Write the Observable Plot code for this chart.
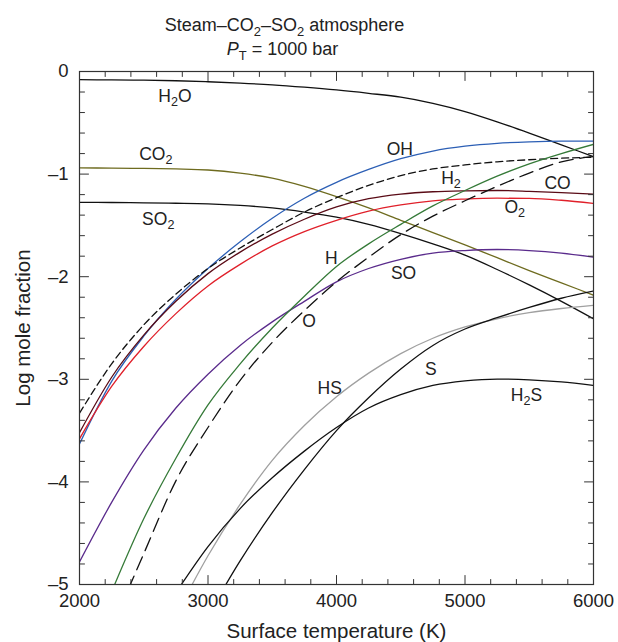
<!DOCTYPE html>
<html><head><meta charset="utf-8">
<script src="https://cdn.jsdelivr.net/npm/d3@7"></script>
<script src="https://cdn.jsdelivr.net/npm/@observablehq/plot@0.6"></script>
<style>
body{margin:0;background:#fff;}
#chart svg{font-family:"Liberation Sans",Arial,Helvetica,sans-serif;display:block;}
</style></head><body><div id="chart"></div>
<script>
// Temperature grid (K)
const T = [2000,2250,2500,2750,3000,3250,3500,3750,4000,4250,4500,4750,5000,5250,5500,5750,6000];

// Log mole fraction values (each series ends at the high-T end of the grid)
const H2O = [-0.08,-0.082,-0.085,-0.09,-0.10,-0.113,-0.13,-0.153,-0.18,-0.213,-0.25,-0.31,-0.39,-0.49,-0.60,-0.715,-0.83];
const CO2 = [-0.94,-0.941,-0.945,-0.95,-0.96,-0.99,-1.04,-1.12,-1.22,-1.33,-1.45,-1.57,-1.69,-1.815,-1.94,-2.06,-2.18];
const SO2 = [-1.275,-1.277,-1.28,-1.284,-1.29,-1.305,-1.33,-1.37,-1.42,-1.49,-1.58,-1.68,-1.79,-1.93,-2.08,-2.24,-2.41];
const OH  = [-3.63,-3.02,-2.58,-2.22,-1.92,-1.66,-1.43,-1.235,-1.08,-0.955,-0.85,-0.775,-0.728,-0.70,-0.686,-0.679,-0.678];
const H2  = [-3.33,-2.85,-2.47,-2.17,-1.92,-1.72,-1.54,-1.37,-1.23,-1.11,-1.015,-0.95,-0.91,-0.88,-0.86,-0.845,-0.835];
const CO  = [-3.52,-2.98,-2.57,-2.24,-1.97,-1.76,-1.585,-1.44,-1.32,-1.24,-1.195,-1.172,-1.163,-1.16,-1.168,-1.18,-1.195];
const O2  = [-3.58,-3.07,-2.68,-2.36,-2.09,-1.88,-1.70,-1.56,-1.45,-1.36,-1.30,-1.26,-1.243,-1.235,-1.237,-1.255,-1.285];
const SO  = [-4.78,-4.20,-3.69,-3.28,-2.95,-2.67,-2.44,-2.24,-2.05,-1.92,-1.83,-1.77,-1.745,-1.735,-1.745,-1.77,-1.81];
const H   = [-5.07,-4.36,-3.77,-3.25,-2.85,-2.50,-2.19,-1.90,-1.68,-1.49,-1.31,-1.16,-1.02,-0.90,-0.80,-0.71];
const O   = [-5.42,-4.70,-3.99,-3.47,-3.01,-2.64,-2.33,-2.05,-1.81,-1.59,-1.41,-1.26,-1.12,-0.99,-0.88,-0.83];
const HS  = [-5.30,-4.72,-4.22,-3.79,-3.45,-3.17,-2.94,-2.75,-2.60,-2.49,-2.41,-2.35,-2.31,-2.28];
const H2S = [-5.08,-4.63,-4.26,-3.96,-3.70,-3.47,-3.28,-3.15,-3.06,-3.015,-2.998,-3.005,-3.025,-3.06];
const S   = [-5.30,-4.77,-4.30,-3.88,-3.50,-3.18,-2.90,-2.67,-2.51,-2.40,-2.30,-2.21,-2.14];

// Curve labels (species name, anchor temperature, anchor log mole fraction)
const labelNames = ["H2O","CO2","SO2","OH","H2","CO","O2","H","SO","O","HS","S","H2S"];
const labelT = [2743,2594,2613,4493,4891,5720,5387,3960,4522,3787,3947,4734,5478];
const labelV = [-0.24,-0.81,-1.44,-0.756,-1.037,-1.094,-1.325,-1.823,-1.968,-2.431,-3.086,-2.899,-3.159];

// Axis ticks
const xMajor = [2000,3000,4000,5000,6000];
const xMinor = [2200,2400,2600,2800,3200,3400,3600,3800,4200,4400,4600,4800,5200,5400,5600,5800];
const yMajor = [0,-1,-2,-3,-4,-5];
const yMinor = [-0.2,-0.4,-0.6,-0.8,-1.2,-1.4,-1.6,-1.8,-2.2,-2.4,-2.6,-2.8,-3.2,-3.4,-3.6,-3.8,-4.2,-4.4,-4.6,-4.8];

const title1 = "Steam–CO2–SO2 atmosphere";
const title2 = "PT = 1000 bar";
const xLabel = "Surface temperature (K)";
const yLabel = "Log mole fraction";

const seriesList = [
  ["H2O", H2O, "#111", null],
  ["CO2", CO2, "#6e6b1f", null],
  ["SO2", SO2, "#111", null],
  ["OH", OH, "#2c5fb5", null],
  ["H2", H2, "#111", "7,4"],
  ["CO", CO, "#5a0b16", null],
  ["O2", O2, "#e0202a", null],
  ["SO", SO, "#5a2b8c", null],
  ["H", H, "#357a38", null],
  ["O", O, "#111", "14,7"],
  ["HS", HS, "#a0a0a0", null],
  ["H2S", H2S, "#111", null],
  ["S", S, "#111", null]
];

function rowsOf(name, vals) {
  const ts = T.slice(T.length - vals.length);
  return vals.map((v, i) => ({species: name, T: ts[i], v}));
}

const tickShape = {draw(ctx, l) { ctx.moveTo(0, 0); ctx.lineTo(0, -l); }};
const frameCol = "#333";
function ticks(data, ch, anchor, rot, len) {
  const o = {frameAnchor: anchor, rotate: rot, length: len, anchor: "start", shape: tickShape, stroke: frameCol, strokeWidth: 1};
  o[ch] = d => d;
  return Plot.vector(data, o);
}

const labels = labelNames.map((n, i) => ({n, T: labelT[i], v: labelV[i]}));
const centered = {textAnchor: "middle", lineAnchor: "middle", fill: "#222"};

const marks = [];
for (const [name, vals, col, dash] of seriesList) {
  marks.push(Plot.line(rowsOf(name, vals), {x: "T", y: "v", stroke: col, strokeWidth: 1.3, strokeDasharray: dash || undefined, curve: "monotone-x", clip: true}));
}
marks.push(
  Plot.frame({stroke: frameCol, strokeWidth: 1.2}),
  ticks(xMajor, "x", "bottom", 0, 9), ticks(xMinor, "x", "bottom", 0, 5),
  ticks(xMajor, "x", "top", 180, 9), ticks(xMinor, "x", "top", 180, 5),
  ticks(yMajor, "y", "left", 90, 9), ticks(yMinor, "y", "left", 90, 5),
  ticks(yMajor, "y", "right", -90, 9), ticks(yMinor, "y", "right", -90, 5),
  Plot.axisX({ticks: xMajor, tickSize: 0, tickPadding: 9, fontSize: 18.5, label: null, tickFormat: d => String(d), fill: "#222"}),
  Plot.axisY({ticks: yMajor, tickSize: 0, tickPadding: 11, fontSize: 18.5, label: null, tickFormat: d => d === 0 ? "0" : "–" + Math.abs(d), fill: "#222"}),
  Plot.text(labels, {x: "T", y: "v", text: "n", fontSize: 17.5, ...centered}),
  Plot.text([title1], {text: d => d, frameAnchor: "top", dx: -52, dy: -46, fontSize: 18, ...centered}),
  Plot.text([title2], {text: d => d, frameAnchor: "top", dx: -54, dy: -22, fontSize: 18, ...centered}),
  Plot.text([xLabel], {text: d => d, frameAnchor: "bottom", dy: 47, fontSize: 20.5, ...centered}),
  Plot.text([yLabel], {text: d => d, frameAnchor: "left", dx: -56, rotate: -90, fontSize: 20.5, ...centered})
);

const chart = Plot.plot({
  width: 618, height: 642,
  marginTop: 71, marginLeft: 79, marginRight: 25, marginBottom: 58,
  x: {domain: [2000, 6000]},
  y: {domain: [-5, 0]},
  style: {fontFamily: "'Liberation Sans', Arial, Helvetica, sans-serif", background: "#fff", color: "#222"},
  marks
});
document.getElementById("chart").append(chart);

// Typeset chemical subscripts and the P_T title
const NS = "http://www.w3.org/2000/svg";
function setSegments(el, segs) {
  const fs = parseFloat(el.getAttribute("font-size") || el.parentNode.getAttribute("font-size") || 17);
  while (el.firstChild) el.removeChild(el.firstChild);
  let shifted = false;
  for (const s of segs) {
    const ts = document.createElementNS(NS, "tspan");
    ts.textContent = s.t;
    if (s.sub) { ts.setAttribute("font-size", (fs * 0.72).toFixed(2)); if (!shifted) { ts.setAttribute("dy", (fs * 0.24).toFixed(2)); shifted = true; } }
    else if (shifted) { ts.setAttribute("dy", (-fs * 0.24).toFixed(2)); shifted = false; }
    if (s.it) ts.setAttribute("font-style", "italic");
    el.appendChild(ts);
  }
}
chart.querySelectorAll("text").forEach(el => {
  const s = el.textContent;
  if (s === title2) {
    setSegments(el, [{t: "P", it: true}, {t: "T", sub: true}, {t: " = 1000 bar"}]);
  } else if (/[A-Za-z]\d/.test(s)) {
    const merged = [];
    for (let i = 0; i < s.length; i++) {
      const c = s[i];
      const sub = /\d/.test(c) && i > 0 && /[A-Za-z]/.test(s[i - 1]);
      const last = merged[merged.length - 1];
      if (last && last.sub === sub) last.t += c; else merged.push({t: c, sub});
    }
    setSegments(el, merged);
  }
});
</script></body></html>
